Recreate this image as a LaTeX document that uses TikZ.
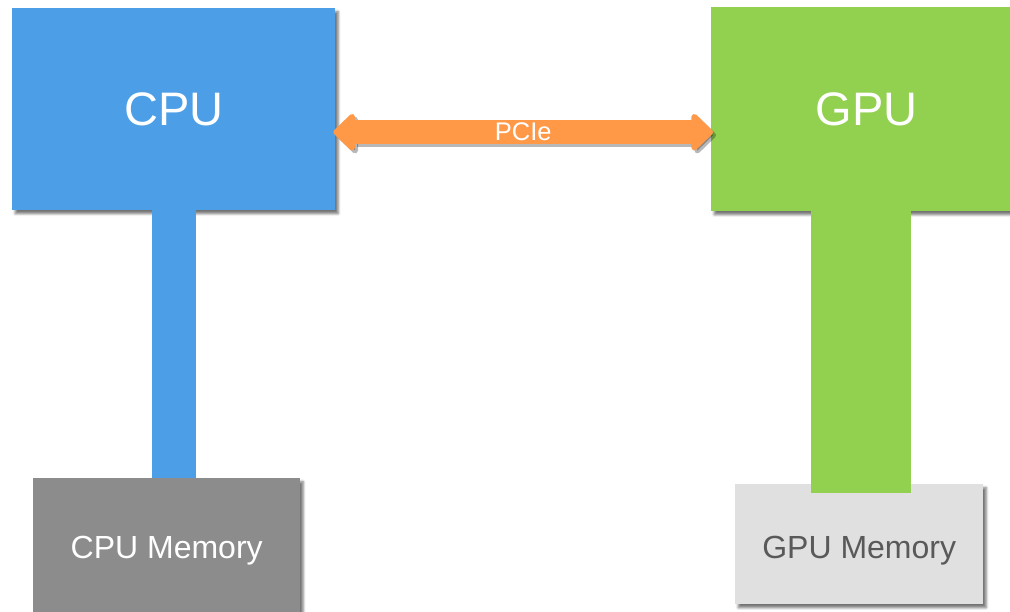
\documentclass[tikz,border=0pt]{standalone}
\usepackage{fontspec}
\setmainfont{Liberation Sans}
\usetikzlibrary{arrows.meta,calc,shadows.blur}

\definecolor{cpublue}{HTML}{4C9FE6}
\definecolor{gpugreen}{HTML}{92D050}
\definecolor{memgray}{HTML}{8C8C8C}
\definecolor{memlight}{HTML}{E0E0E0}
\definecolor{memtext}{HTML}{595959}
\definecolor{pcieorange}{HTML}{FF9948}

\tikzset{
  box/.style={rectangle, inner sep=0pt, anchor=north west,
    blur shadow={shadow xshift=3pt, shadow yshift=-3.5pt,
                 shadow blur radius=2.5pt, shadow opacity=55}},
  chip/.style={box, text=white, font=\fontsize{47}{50}\selectfont},
  memory/.style={box, font=\fontsize{32}{35}\selectfont, text depth=0pt},
  pcie/.style={line width=24pt, draw=pcieorange,
    {Triangle[width=43pt,length=23pt,round]}-{Triangle[width=43pt,length=23pt,round]}},
  pcieshade/.style={pcie, draw=black, opacity=0.28},
}

\begin{document}
\begin{tikzpicture}[x=1pt, y=-1pt]
  \useasboundingbox (0,0) rectangle (1010,611);
  \clip (0,0) rectangle (1010,611);

  % processors
  \node[chip, fill=cpublue, minimum width=323pt, minimum height=202pt] (cpu) at (12,8) {CPU};
  \node[chip, fill=gpugreen, minimum width=311pt, minimum height=204pt] (gpu) at (711,7) {GPU};

  % memories
  \node[memory, fill=memgray, text=white, text height=22pt, minimum width=267pt, minimum height=138pt] (cpumem) at (33,478) {CPU Memory};
  \node[memory, fill=memlight, text=memtext, text height=28pt, minimum width=248pt, minimum height=120pt] (gpumem) at (735,484) {GPU Memory};

  % memory buses
  \draw[line width=44pt, cpublue] ([xshift=0.5pt]cpu.south) -- ([xshift=0.5pt]cpu.south |- cpumem.north);
  \draw[line width=100pt, gpugreen] ([xshift=-5.5pt]gpu.south) -- ($(gpu.south |- gpumem.north)+(-5.5,9)$);

  % PCIe link
  \draw[pcieshade] ($(cpu.east)+(1,26)$) -- ($(gpu.west)+(5,26)$);
  \draw[pcie] ($(cpu.east)+(-2,23)$) -- ($(gpu.west)+(2,23)$)
    node[midway, text=white, font=\fontsize{25.5}{27}\selectfont] (pcielabel) {PCIe};
\end{tikzpicture}
\end{document}
